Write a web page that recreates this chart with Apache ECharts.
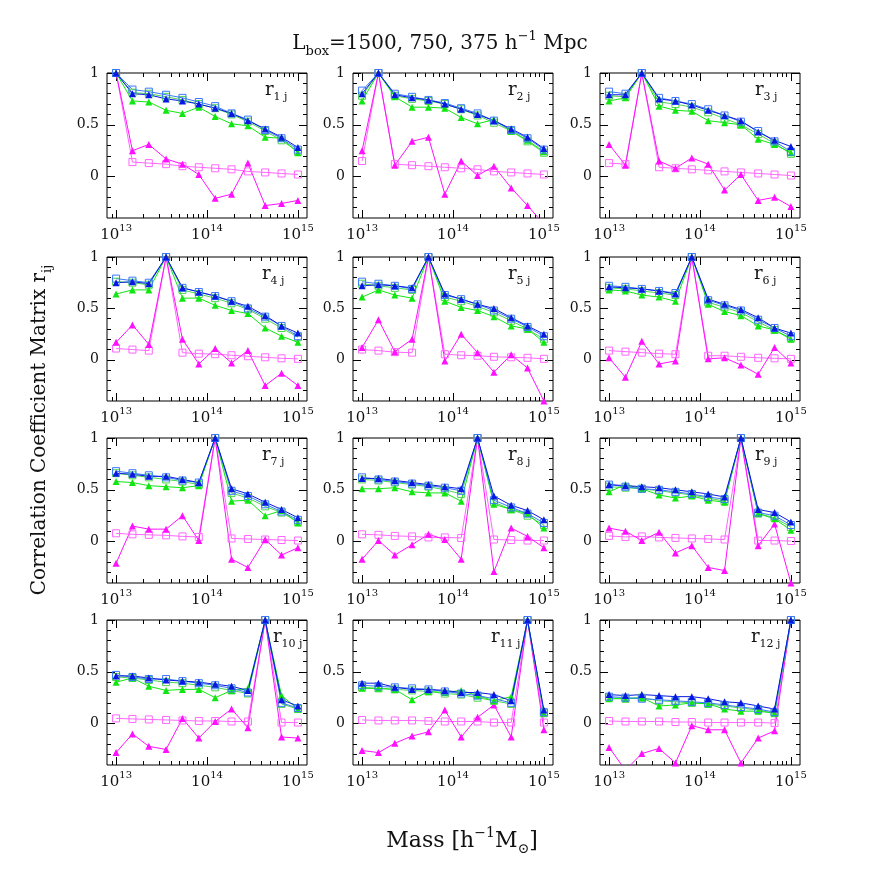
<!DOCTYPE html>
<html>
<head>
<meta charset="UTF-8">
<title>Correlation coefficient matrix</title>
<script src="https://cdn.jsdelivr.net/npm/echarts@6/dist/echarts.min.js"></script>
<style>
  html, body { margin: 0; padding: 0; background: #fff; }
  #main { width: 872px; height: 872px; }
</style>
</head>
<body>
<div id="main"></div>
<script>
// mass bins, log10(M / h^-1 Msun)
var logMass = [13.00, 13.18, 13.36, 13.55, 13.73, 13.91, 14.09, 14.27, 14.45, 14.64, 14.82, 15.00];

// one row per panel r_1j ... r_12j
var blueTri = [
  [1, 0.80, 0.79, 0.75, 0.73, 0.70, 0.66, 0.61, 0.54, 0.46, 0.38, 0.28],
  [0.80, 1, 0.79, 0.76, 0.74, 0.70, 0.65, 0.60, 0.54, 0.46, 0.38, 0.27],
  [0.79, 0.79, 1, 0.75, 0.73, 0.69, 0.64, 0.59, 0.54, 0.43, 0.35, 0.29],
  [0.75, 0.76, 0.74, 1, 0.70, 0.66, 0.62, 0.57, 0.52, 0.43, 0.33, 0.26],
  [0.72, 0.73, 0.72, 0.70, 1, 0.64, 0.59, 0.54, 0.50, 0.41, 0.33, 0.25],
  [0.71, 0.70, 0.69, 0.67, 0.64, 1, 0.59, 0.54, 0.49, 0.41, 0.31, 0.26],
  [0.66, 0.65, 0.63, 0.63, 0.60, 0.57, 1, 0.51, 0.46, 0.38, 0.31, 0.23],
  [0.61, 0.61, 0.59, 0.57, 0.55, 0.53, 0.51, 1, 0.44, 0.35, 0.30, 0.21],
  [0.55, 0.54, 0.53, 0.52, 0.50, 0.48, 0.46, 0.43, 1, 0.31, 0.28, 0.19],
  [0.46, 0.46, 0.44, 0.42, 0.41, 0.40, 0.38, 0.36, 0.32, 1, 0.23, 0.17],
  [0.39, 0.39, 0.35, 0.33, 0.33, 0.32, 0.30, 0.30, 0.28, 0.22, 1, 0.13],
  [0.28, 0.27, 0.28, 0.27, 0.26, 0.26, 0.24, 0.21, 0.20, 0.17, 0.14, 1]
];
var blueSq = [
  [1, 0.84, 0.82, 0.79, 0.76, 0.72, 0.68, 0.61, 0.55, 0.45, 0.37, 0.26],
  [0.83, 1, 0.80, 0.77, 0.74, 0.71, 0.66, 0.61, 0.54, 0.45, 0.37, 0.26],
  [0.82, 0.80, 1, 0.76, 0.73, 0.70, 0.65, 0.59, 0.53, 0.44, 0.34, 0.24],
  [0.79, 0.77, 0.75, 1, 0.70, 0.66, 0.62, 0.57, 0.50, 0.42, 0.33, 0.23],
  [0.76, 0.74, 0.72, 0.69, 1, 0.63, 0.59, 0.54, 0.48, 0.40, 0.32, 0.23],
  [0.72, 0.71, 0.69, 0.67, 0.65, 1, 0.58, 0.53, 0.48, 0.39, 0.31, 0.23],
  [0.68, 0.66, 0.64, 0.62, 0.59, 0.57, 1, 0.49, 0.44, 0.36, 0.29, 0.21],
  [0.62, 0.60, 0.58, 0.56, 0.54, 0.52, 0.49, 1, 0.40, 0.33, 0.27, 0.18],
  [0.55, 0.53, 0.51, 0.50, 0.48, 0.46, 0.43, 0.41, 1, 0.28, 0.25, 0.16],
  [0.47, 0.45, 0.43, 0.43, 0.41, 0.39, 0.37, 0.34, 0.30, 1, 0.20, 0.15],
  [0.37, 0.36, 0.35, 0.34, 0.33, 0.31, 0.29, 0.27, 0.24, 0.20, 1, 0.11],
  [0.26, 0.25, 0.24, 0.23, 0.22, 0.21, 0.20, 0.18, 0.16, 0.14, 0.11, 1]
];
var greenTri = [
  [1, 0.73, 0.72, 0.64, 0.61, 0.67, 0.58, 0.51, 0.49, 0.38, 0.37, 0.23],
  [0.73, 1, 0.77, 0.67, 0.67, 0.66, 0.57, 0.51, 0.55, 0.44, 0.35, 0.24],
  [0.73, 0.76, 1, 0.68, 0.64, 0.63, 0.54, 0.52, 0.50, 0.36, 0.31, 0.23],
  [0.64, 0.68, 0.68, 1, 0.60, 0.60, 0.53, 0.48, 0.45, 0.31, 0.23, 0.17],
  [0.61, 0.68, 0.63, 0.60, 1, 0.57, 0.51, 0.48, 0.42, 0.33, 0.30, 0.17],
  [0.68, 0.67, 0.63, 0.61, 0.57, 1, 0.54, 0.47, 0.43, 0.33, 0.29, 0.20],
  [0.58, 0.57, 0.54, 0.53, 0.52, 0.54, 1, 0.39, 0.40, 0.25, 0.30, 0.18],
  [0.51, 0.51, 0.52, 0.48, 0.47, 0.47, 0.39, 1, 0.36, 0.31, 0.27, 0.13],
  [0.48, 0.55, 0.51, 0.45, 0.42, 0.44, 0.40, 0.38, 1, 0.27, 0.22, 0.11],
  [0.40, 0.44, 0.36, 0.32, 0.33, 0.33, 0.25, 0.32, 0.34, 1, 0.27, 0.14],
  [0.34, 0.34, 0.33, 0.23, 0.31, 0.30, 0.32, 0.27, 0.22, 0.26, 1, 0.10],
  [0.24, 0.24, 0.25, 0.17, 0.18, 0.20, 0.19, 0.14, 0.12, 0.12, 0.10, 1]
];
var greenSq = [
  [1, 0.81, 0.80, 0.77, 0.74, 0.70, 0.66, 0.60, 0.53, 0.44, 0.35, 0.24],
  [0.78, 1, 0.78, 0.75, 0.73, 0.70, 0.65, 0.59, 0.52, 0.44, 0.34, 0.23],
  [0.78, 0.77, 1, 0.72, 0.70, 0.67, 0.62, 0.56, 0.50, 0.41, 0.32, 0.22],
  [0.76, 0.75, 0.73, 1, 0.68, 0.64, 0.60, 0.55, 0.49, 0.40, 0.31, 0.22],
  [0.74, 0.72, 0.70, 0.68, 1, 0.61, 0.57, 0.52, 0.46, 0.38, 0.30, 0.20],
  [0.70, 0.69, 0.67, 0.65, 0.63, 1, 0.56, 0.51, 0.46, 0.37, 0.29, 0.21],
  [0.66, 0.64, 0.62, 0.60, 0.58, 0.55, 1, 0.47, 0.42, 0.34, 0.28, 0.19],
  [0.60, 0.59, 0.57, 0.55, 0.53, 0.50, 0.46, 1, 0.38, 0.31, 0.25, 0.16],
  [0.53, 0.52, 0.51, 0.49, 0.47, 0.45, 0.42, 0.39, 1, 0.27, 0.23, 0.14],
  [0.45, 0.44, 0.42, 0.40, 0.39, 0.37, 0.35, 0.32, 0.29, 1, 0.19, 0.14],
  [0.35, 0.34, 0.33, 0.32, 0.31, 0.29, 0.28, 0.25, 0.22, 0.19, 1, 0.10],
  [0.25, 0.24, 0.25, 0.22, 0.21, 0.20, 0.19, 0.17, 0.15, 0.13, 0.10, 1]
];
var magTri = [
  [1, 0.25, 0.31, 0.17, 0.12, 0.02, -0.21, -0.17, 0.13, -0.28, -0.26, -0.23],
  [0.25, 1, 0.11, 0.34, 0.38, -0.17, 0.15, 0.01, 0.10, -0.11, -0.28, -0.46],
  [0.31, 0.11, 1, 0.15, 0.08, 0.18, 0.12, -0.13, 0.02, -0.23, -0.20, -0.29],
  [0.17, 0.34, 0.15, 1, 0.20, -0.04, 0.11, -0.03, 0.09, -0.25, -0.13, -0.25],
  [0.12, 0.39, 0.08, 0.20, 1, -0.01, 0.25, 0.07, -0.12, 0.05, -0.08, -0.40],
  [0.02, -0.17, 0.18, -0.04, -0.01, 1, 0.01, 0.02, -0.05, -0.14, 0.12, -0.03],
  [-0.21, 0.15, 0.12, 0.12, 0.25, 0.01, 1, -0.17, -0.25, 0.02, -0.13, -0.06],
  [-0.17, 0.01, -0.13, -0.03, 0.07, 0.02, -0.17, 1, -0.29, 0.13, 0.05, -0.06],
  [0.13, 0.10, 0.01, 0.09, -0.11, -0.04, -0.25, -0.28, 1, -0.04, 0.17, -0.40],
  [-0.28, -0.10, -0.22, -0.25, 0.05, -0.14, 0.02, 0.14, -0.04, 1, -0.13, -0.14],
  [-0.26, -0.28, -0.19, -0.12, -0.08, 0.13, -0.13, 0.06, 0.18, -0.13, 1, -0.06],
  [-0.23, -0.45, -0.29, -0.24, -0.38, -0.02, -0.06, -0.06, -0.38, -0.14, -0.07, 1]
];
var magSq = [
  [1, 0.14, 0.13, 0.12, 0.10, 0.09, 0.08, 0.07, 0.05, 0.04, 0.03, 0.02],
  [0.15, 1, 0.12, 0.11, 0.10, 0.09, 0.08, 0.07, 0.05, 0.04, 0.03, 0.02],
  [0.13, 0.12, 1, 0.09, 0.08, 0.07, 0.06, 0.05, 0.04, 0.03, 0.02, 0.01],
  [0.11, 0.10, 0.09, 1, 0.07, 0.06, 0.055, 0.045, 0.035, 0.025, 0.015, 0.01],
  [0.10, 0.09, 0.075, 0.07, 1, 0.055, 0.045, 0.04, 0.03, 0.025, 0.02, 0.01],
  [0.09, 0.08, 0.07, 0.06, 0.055, 1, 0.04, 0.04, 0.03, 0.02, 0.015, 0.01],
  [0.08, 0.07, 0.065, 0.06, 0.05, 0.045, 1, 0.03, 0.025, 0.02, 0.015, 0.01],
  [0.07, 0.065, 0.055, 0.05, 0.04, 0.04, 0.035, 1, 0.02, 0.015, 0.01, 0.01],
  [0.055, 0.045, 0.05, 0.04, 0.035, 0.03, 0.025, 0.02, 1, 0.01, 0.01, 0.005],
  [0.05, 0.045, 0.04, 0.035, 0.03, 0.025, 0.025, 0.02, 0.02, 1, 0.01, 0.01],
  [0.035, 0.03, 0.03, 0.03, 0.025, 0.02, 0.02, 0.02, 0.01, 0.01, 1, 0.01],
  [0.025, 0.02, 0.02, 0.02, 0.015, 0.015, 0.01, 0.01, 0.01, 0.01, 0.005, 1]
];

var xMajor = [13, 14, 15];
var yMajor = [0, 0.5, 1];
var yMinor = [-0.3, -0.2, -0.1, 0.1, 0.2, 0.3, 0.4, 0.6, 0.7, 0.8, 0.9];

var FONT = 'DejaVu Serif';
var colLeft = [107, 353, 600];
var rowTop = [73, 257, 438, 620];
var rowH = [145, 144, 145, 145];
var panelW = 200;
var labelDx = [158, 155, 155, 155, 155, 154, 155, 155, 155, 166, 138, 151];

// minor ticks of the log axis
var xMinor = [Math.log10(9) + 12];
[13, 14].forEach(function(d) {
    for (var k = 2; k <= 9; k++) xMinor.push(d + Math.log10(k));
});

var grids = [], xAxes = [], yAxes = [], series = [], graphics = [];

function xAxis(g, pos, ticks, len, labels) {
    return {
        type: 'value', gridIndex: g, position: pos, min: 12.9, max: 15.1,
        axisLine: { show: false, onZero: false }, splitLine: { show: false },
        axisTick: { show: true, inside: true, length: len, customValues: ticks,
            lineStyle: { color: '#000', width: 1 } },
        axisLabel: labels ? {
            customValues: xMajor, margin: 5,
            formatter: function(v) { return '{b|10}{s|' + Math.round(v) + '}'; },
            rich: {
                b: { fontFamily: FONT, fontSize: 15, color: '#111', lineHeight: 20, verticalAlign: 'bottom' },
                s: { fontFamily: FONT, fontSize: 10, color: '#111', lineHeight: 11, verticalAlign: 'top' }
            }
        } : { show: false }
    };
}
function yAxis(g, pos, ticks, len, labels) {
    return {
        type: 'value', gridIndex: g, position: pos, min: -0.4, max: 1,
        axisLine: { show: false, onZero: false }, splitLine: { show: false },
        axisTick: { show: true, inside: true, length: len, customValues: ticks,
            lineStyle: { color: '#000', width: 1 } },
        axisLabel: labels ? {
            customValues: yMajor, margin: 8,
            fontFamily: FONT, fontSize: 14, color: '#111',
            formatter: function(v) { return String(v); }
        } : { show: false }
    };
}
function pts(row) {
    return logMass.map(function(m, i) { return [m, row[i]]; });
}
function line(g, row, color, tri) {
    return {
        type: 'line', xAxisIndex: g, yAxisIndex: g, data: pts(row),
        symbol: tri ? 'triangle' : 'rect', symbolSize: 7,
        lineStyle: { color: color, width: 1 },
        itemStyle: tri ? { color: color } :
            { color: 'rgba(0,0,0,0)', borderColor: color, borderWidth: 1 },
        clip: true, silent: true, animation: false, z: 3
    };
}

for (var p = 0; p < 12; p++) {
    var r = Math.floor(p / 3), c = p % 3;
    var box = { left: colLeft[c], top: rowTop[r], width: panelW, height: rowH[r] };
    var gMain = 2 * p, gMin = 2 * p + 1;
    grids.push(Object.assign({ show: true, borderColor: '#000', borderWidth: 1 }, box));
    grids.push(Object.assign({ show: false }, box));

    xAxes.push(xAxis(gMain, 'bottom', xMajor, 8, true));
    xAxes.push(xAxis(gMain, 'top', xMajor, 8, false));
    xAxes.push(xAxis(gMin, 'bottom', xMinor, 4, false));
    xAxes.push(xAxis(gMin, 'top', xMinor, 4, false));
    yAxes.push(yAxis(gMain, 'left', yMajor, 8, true));
    yAxes.push(yAxis(gMain, 'right', yMajor, 8, false));
    yAxes.push(yAxis(gMin, 'left', yMinor, 4, false));
    yAxes.push(yAxis(gMin, 'right', yMinor, 4, false));

    var ax = 4 * p; // first x/y axis index of this panel
    [
        line(ax, magSq[p], '#ff66ff', false),
        line(ax, magTri[p], '#ff10ff', true),
        line(ax, greenSq[p], '#4cd64c', false),
        line(ax, greenTri[p], '#10e610', true),
        line(ax, blueSq[p], '#3a78ff', false),
        line(ax, blueTri[p], '#0818e0', true)
    ].forEach(function(s) { series.push(s); });

    graphics.push({
        type: 'text', x: colLeft[c] + labelDx[p], y: rowTop[r] + 8, z: 10,
        style: {
            text: '{r|r}{s|' + (p + 1) + ' j}',
            rich: {
                r: { fontFamily: FONT, fontSize: 18, fill: '#111', lineHeight: 22, verticalAlign: 'top' },
                s: { fontFamily: FONT, fontSize: 11, fill: '#111', lineHeight: 10, verticalAlign: 'bottom' }
            }
        }
    });
}

// titles
graphics.push({
    type: 'text', x: 440, y: 30, z: 10,
    style: {
        text: '{a|L}{b|box}{a|=1500, 750, 375 h}{c|\u22121}{a| Mpc}', align: 'center',
        rich: {
            a: { fontFamily: FONT, fontSize: 20, fill: '#111', lineHeight: 28, verticalAlign: 'middle' },
            b: { fontFamily: FONT, fontSize: 13, fill: '#111', lineHeight: 12, verticalAlign: 'bottom' },
            c: { fontFamily: FONT, fontSize: 13, fill: '#111', lineHeight: 12, verticalAlign: 'top' }
        }
    }
});
graphics.push({
    type: 'text', x: 40, y: 430, rotation: Math.PI / 2, z: 10,
    style: {
        text: '{a|Correlation Coefficient Matrix r}{b|ij}', align: 'center', verticalAlign: 'middle',
        rich: {
            a: { fontFamily: FONT, fontSize: 20, fill: '#111', lineHeight: 28, verticalAlign: 'middle' },
            b: { fontFamily: FONT, fontSize: 13, fill: '#111', lineHeight: 13, verticalAlign: 'bottom' }
        }
    }
});
graphics.push({
    type: 'text', x: 462, y: 826, z: 10,
    style: {
        text: '{a|Mass [h}{c|\u22121}{a|M}{b|\u2299}{a|]}', align: 'center',
        rich: {
            a: { fontFamily: FONT, fontSize: 22, fill: '#111', lineHeight: 30, verticalAlign: 'middle' },
            b: { fontFamily: FONT, fontSize: 14, fill: '#111', lineHeight: 14, verticalAlign: 'bottom' },
            c: { fontFamily: FONT, fontSize: 14, fill: '#111', lineHeight: 14, verticalAlign: 'top' }
        }
    }
});

var chart = echarts.init(document.getElementById('main'), null, { renderer: 'canvas' });
chart.setOption({
    backgroundColor: '#fff',
    animation: false,
    grid: grids,
    xAxis: xAxes,
    yAxis: yAxes,
    series: series,
    graphic: graphics
});
</script>
</body>
</html>
